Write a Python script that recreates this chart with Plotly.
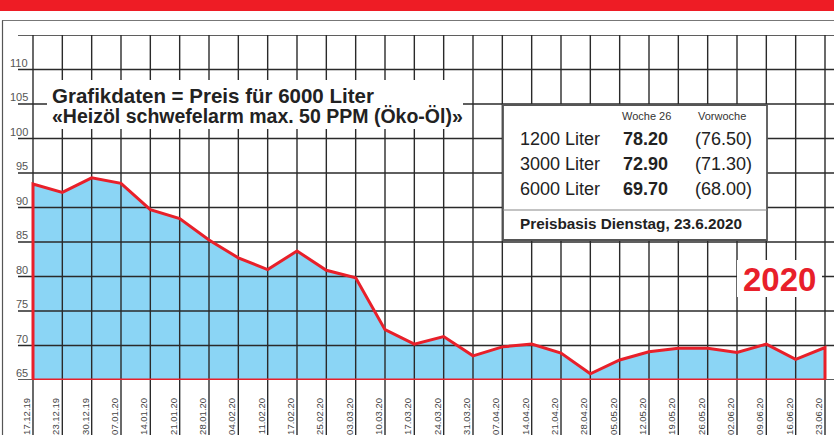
import plotly.graph_objects as go

dates = ["17.12.19", "23.12.19", "30.12.19", "07.01.20", "14.01.20", "21.01.20", "28.01.20",
         "04.02.20", "11.02.20", "17.02.20", "25.02.20", "03.03.20", "10.03.20", "17.03.20",
         "24.03.20", "31.03.20", "07.04.20", "14.04.20", "21.04.20", "28.04.20", "05.05.20",
         "12.05.20", "19.05.20", "26.05.20", "02.06.20", "09.06.20", "16.06.20", "23.06.20"]
prices = [93.4, 92.2, 94.3, 93.5, 89.7, 88.4, 85.3, 82.7, 81.0, 83.7, 80.9, 79.8, 72.3, 70.2,
          71.3, 68.5, 69.8, 70.2, 68.9, 65.9, 67.9, 69.1, 69.6, 69.6, 69.0, 70.2, 68.0, 69.7]
y_ticks = [65, 70, 75, 80, 85, 90, 95, 100, 105, 110]
y_top = 115

table_rows = ["1200 Liter", "3000 Liter", "6000 Liter"]
table_now = ["78.20", "72.90", "69.70"]
table_prev = ["(76.50)", "(71.30)", "(68.00)"]

W, H = 834, 435
L, R, T, B = 18, 0, 35, 55
PW, PH = W - L - R, H - T - B
n = len(dates)
# x: index 0 at pixel 33, last index at pixel 825
step = (825 - 33) / (n - 1)
x0 = -(33 - L) / step
x1 = (n - 1) + (W - R - 825) / step
ymin = y_ticks[0]

def px(x):
    return (x - L) / PW

def py(y):
    return (H - B - y) / PH

RED = "#E8202A"
BLUE = "#8BD5F5"
GRID = "#2a2a2a"
FONT = "Liberation Sans, Arial, Helvetica, sans-serif"

fig = go.Figure()

xs = list(range(n))
poly_x = [0] + xs + [n - 1, 0]
poly_y = [ymin] + prices + [ymin, ymin]

# fill
fig.add_trace(go.Scatter(x=poly_x, y=poly_y, fill="toself", fillcolor=BLUE,
                         mode="lines", line=dict(width=0), hoverinfo="skip", showlegend=False))

# grid lines as traces (above fill, below red line)
gx, gy = [], []
for yv in y_ticks + [y_top]:
    gx += [x0, x1, None]
    gy += [yv, yv, None]
for i in xs:
    gx += [i, i, None]
    gy += [ymin, y_top, None]
fig.add_trace(go.Scatter(x=gx, y=gy, mode="lines", line=dict(color=GRID, width=1.4),
                         hoverinfo="skip", showlegend=False))

# red outline
fig.add_trace(go.Scatter(x=poly_x, y=poly_y, mode="lines",
                         line=dict(color=RED, width=3), hoverinfo="skip", showlegend=False))

shapes = []
# vertical gridlines extending below plot through labels
for i in xs:
    shapes.append(dict(type="line", xref="x", yref="paper", x0=i, x1=i, y0=-0.25, y1=0,
                       line=dict(color=GRID, width=1.4), layer="below"))
# outer frame
shapes.append(dict(type="line", xref="paper", yref="paper", x0=px(2), x1=px(W), y0=py(20.5), y1=py(20.5),
                   line=dict(color="#777", width=1)))
shapes.append(dict(type="line", xref="paper", yref="paper", x0=px(2.5), x1=px(2.5), y0=py(20.5), y1=py(H),
                   line=dict(color="#555", width=1.2)))
# red header bar
shapes.append(dict(type="rect", xref="paper", yref="paper", x0=px(0), x1=px(W), y0=py(0), y1=py(11),
                   fillcolor="#EE1C25", line=dict(width=0), layer="above"))
# white box behind title text
shapes.append(dict(type="rect", xref="paper", yref="paper", x0=px(47), x1=px(463), y0=py(80), y1=py(129),
                   fillcolor="white", line=dict(width=0), layer="above"))
# table box
shapes.append(dict(type="rect", xref="paper", yref="paper", x0=px(503), x1=px(767), y0=py(105), y1=py(240),
                   fillcolor="white", line=dict(color="#555", width=1.8), layer="above"))
shapes.append(dict(type="line", xref="paper", yref="paper", x0=px(503), x1=px(767), y0=py(210), y1=py(210),
                   line=dict(color="#888", width=1.2), layer="above"))
# white box behind 2020
shapes.append(dict(type="rect", xref="paper", yref="paper", x0=px(737), x1=px(822), y0=py(260), y1=py(297),
                   fillcolor="white", line=dict(width=0), layer="above"))

ann = []
# y tick labels
for yv in y_ticks:
    ann.append(dict(x=px(29), y=yv, xref="paper", yref="y", text=str(yv), showarrow=False,
                    xanchor="right", yanchor="bottom", borderpad=0,
                    font=dict(family=FONT, size=11, color="#555")))
# title text
ann.append(dict(x=px(50), y=py(95), xref="paper", yref="paper", showarrow=False, xanchor="left",
                yanchor="middle", text="<b>Grafikdaten = Preis für 6000 Liter</b>",
                font=dict(family=FONT, size=20.5, color="#222")))
ann.append(dict(x=px(50), y=py(116), xref="paper", yref="paper", showarrow=False, xanchor="left",
                yanchor="middle", text="<b>«Heizöl schwefelarm max. 50 PPM (Öko-Öl)»</b>",
                font=dict(family=FONT, size=19.5, color="#222")))
# table texts
ann.append(dict(x=px(646), y=py(116), xref="paper", yref="paper", showarrow=False, xanchor="center",
                yanchor="middle", text="Woche 26", font=dict(family=FONT, size=11, color="#333")))
ann.append(dict(x=px(722), y=py(116), xref="paper", yref="paper", showarrow=False, xanchor="center",
                yanchor="middle", text="Vorwoche", font=dict(family=FONT, size=11, color="#333")))
row_y = [139, 164, 189]
for r, a, b, yy in zip(table_rows, table_now, table_prev, row_y):
    ann.append(dict(x=px(518), y=py(yy), xref="paper", yref="paper", showarrow=False, xanchor="left",
                    yanchor="middle", text=r, font=dict(family=FONT, size=18, color="#222")))
    ann.append(dict(x=px(645), y=py(yy), xref="paper", yref="paper", showarrow=False, xanchor="center",
                    yanchor="middle", text="<b>" + a + "</b>", font=dict(family=FONT, size=18, color="#222")))
    ann.append(dict(x=px(754), y=py(yy), xref="paper", yref="paper", showarrow=False, xanchor="right",
                    yanchor="middle", text=b, font=dict(family=FONT, size=18, color="#222")))
ann.append(dict(x=px(518), y=py(224), xref="paper", yref="paper", showarrow=False, xanchor="left",
                yanchor="middle", text="<b>Preisbasis Dienstag, 23.6.2020</b>",
                font=dict(family=FONT, size=15.3, color="#222")))
# 2020 label
ann.append(dict(x=px(779), y=py(279), xref="paper", yref="paper", showarrow=False, xanchor="center",
                yanchor="middle", text="<b>2020</b>",
                font=dict(family=FONT, size=33, color=RED)))

fig.update_layout(
    width=W, height=H,
    margin=dict(l=L, r=R, t=T, b=B, pad=0, autoexpand=False),
    paper_bgcolor="white", plot_bgcolor="white",
    showlegend=False,
    shapes=shapes, annotations=ann,
    xaxis=dict(range=[x0, x1], tickvals=xs, ticktext=dates, tickangle=-90,
               showgrid=False, zeroline=False, showline=False, ticks="", automargin=False,
               ticklabelshift=-6, ticklabelstandoff=15,
               tickfont=dict(family=FONT, size=9.5, color="#444"), fixedrange=True),
    yaxis=dict(range=[ymin, y_top], showgrid=False, zeroline=False, showline=False,
               showticklabels=False, ticks="", automargin=False, fixedrange=True),
)

fig.write_html("out.html", config={"displayModeBar": False},
               post_script="document.body.style.margin='0';document.body.style.overflow='hidden';")
